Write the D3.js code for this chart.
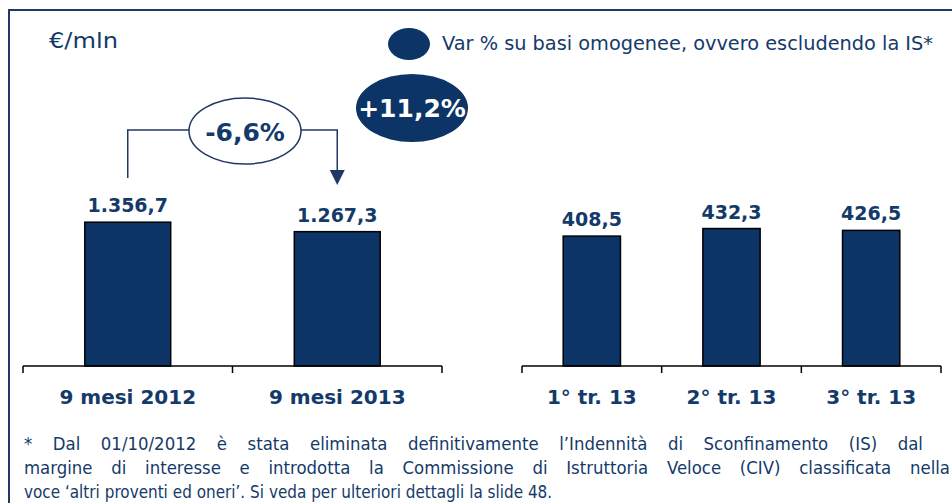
<!DOCTYPE html>
<html>
<head>
<meta charset="utf-8">
<script src="https://cdn.jsdelivr.net/npm/d3@7"></script>
<style>
  body { margin: 0; background: #fff; }
  svg { display: block; }
</style>
</head>
<body>
<div id="chart"></div>
<script>
// data
var leftCats = ["9 mesi 2012", "9 mesi 2013"];
var leftVals = [1356.7, 1267.3];
var leftLabels = ["1.356,7", "1.267,3"];

var rightCats = ["1° tr. 13", "2° tr. 13", "3° tr. 13"];
var rightVals = [408.5, 432.3, 426.5];
var rightLabels = ["408,5", "432,3", "426,5"];

var unitLabel = "€/mln";
var legendLabel = "Var % su basi omogenee, ovvero escludendo la IS*";
var changeLabel = "-6,6%";
var homogLabel = "+11,2%";
var footLines = [
  "* Dal 01/10/2012 è stata eliminata definitivamente l’Indennità di Sconfinamento (IS) dal",
  "margine di interesse e introdotta la Commissione di Istruttoria Veloce (CIV) classificata nella",
  "voce ‘altri proventi ed oneri’. Si veda per ulteriori dettagli la slide 48."
];

var width = 952, height = 503;
var navy = "#0c3466";
var textNavy = "#143a6a";
var bold = "'DejaVu Sans', Verdana, sans-serif";

var svg = d3.select("#chart").append("svg")
    .attr("width", width)
    .attr("height", height);

// frame (top and left only)
svg.append("path")
    .attr("d", "M9," + height + "V10H" + width)
    .attr("fill", "none")
    .attr("stroke", "#1f3864")
    .attr("stroke-width", 2);

// fit regular text to a width (the original font is narrower than ours)
function fit(sel, w) {
    sel.attr("textLength", w).attr("lengthAdjust", "spacingAndGlyphs");
}

svg.append("text")
    .attr("x", 49).attr("y", 48)
    .attr("font-family", "'DejaVu Sans', sans-serif")
    .attr("font-size", 22)
    .attr("fill", textNavy)
    .text(unitLabel)
    .call(fit, 69);

// legend
svg.append("ellipse")
    .attr("cx", 409).attr("cy", 44).attr("rx", 21).attr("ry", 16)
    .attr("fill", navy);
svg.append("text")
    .attr("x", 442).attr("y", 50)
    .attr("font-family", "'DejaVu Sans', sans-serif")
    .attr("font-size", 20)
    .attr("fill", textNavy)
    .text(legendLabel)
    .call(fit, 491);

var y0 = 366, yTop = 207;

function panel(cats, vals, labels, x0, x1, yMax) {
    var x = d3.scaleBand().domain(cats).range([x0, x1]);
    var y = d3.scaleLinear().domain([0, yMax]).range([y0, yTop]);
    var bw = x.bandwidth() * 0.41;
    var g = svg.append("g");

    g.selectAll(".bar")
        .data(vals).enter()
        .append("rect")
        .attr("class", "bar")
        .attr("x", function(d, i){ return x(cats[i]) + (x.bandwidth() - bw) / 2 })
        .attr("y", function(d){ return y(d) })
        .attr("width", bw)
        .attr("height", function(d){ return y(0) - y(d) })
        .attr("fill", navy)
        .attr("stroke", "#000")
        .attr("stroke-width", 1.5);

    g.selectAll(".val")
        .data(vals).enter()
        .append("text")
        .attr("class", "val")
        .attr("x", function(d, i){ return x(cats[i]) + x.bandwidth() / 2 })
        .attr("y", function(d){ return y(d) - 10 })
        .attr("text-anchor", "middle")
        .attr("font-family", bold)
        .attr("font-weight", "bold")
        .attr("font-size", 19)
        .attr("fill", textNavy)
        .text(function(d, i){ return labels[i] });

    // axis: baseline with ticks at the band edges
    var edges = cats.map(function(c){ return x(c) }).concat([x1]);
    g.append("line")
        .attr("x1", x0).attr("x2", x1)
        .attr("y1", y(0)).attr("y2", y(0))
        .attr("stroke", "#000").attr("stroke-width", 1.5);
    g.selectAll(".tick")
        .data(edges).enter()
        .append("line")
        .attr("class", "tick")
        .attr("x1", function(d){ return d }).attr("x2", function(d){ return d })
        .attr("y1", y(0)).attr("y2", y(0) + 7)
        .attr("stroke", "#000").attr("stroke-width", 1.5);

    g.selectAll(".cat")
        .data(cats).enter()
        .append("text")
        .attr("class", "cat")
        .attr("x", function(d){ return x(d) + x.bandwidth() / 2 })
        .attr("y", y(0) + 38)
        .attr("text-anchor", "middle")
        .attr("font-family", bold)
        .attr("font-weight", "bold")
        .attr("font-size", 20)
        .attr("fill", textNavy)
        .text(function(d){ return d });

    return { x: x, y: y };
}

var left = panel(leftCats, leftVals, leftLabels, 23, 442, 1500);
var right = panel(rightCats, rightVals, rightLabels, 522, 941, 500);

// change connector between the two left bars
var cx1 = left.x(leftCats[0]) + left.x.bandwidth() / 2;
var cx2 = left.x(leftCats[1]) + left.x.bandwidth() / 2;
var ecx = 245, ecy = 131, erx = 56, ery = 33;

svg.append("path")
    .attr("d", "M" + cx1 + ",178V" + 130 + "H" + (ecx - erx) +
               "M" + (ecx + erx) + ",130H" + cx2 + "V172")
    .attr("fill", "none")
    .attr("stroke", "#1f3864")
    .attr("stroke-width", 1.5);
svg.append("path")
    .attr("d", "M" + (cx2 - 7.5) + ",170L" + (cx2 + 7.5) + ",170L" + cx2 + ",185Z")
    .attr("fill", "#1f3864");

svg.append("ellipse")
    .attr("cx", ecx).attr("cy", ecy).attr("rx", erx).attr("ry", ery)
    .attr("fill", "#fff")
    .attr("stroke", "#1f3864")
    .attr("stroke-width", 1.5);
svg.append("text")
    .attr("x", ecx).attr("y", 141)
    .attr("text-anchor", "middle")
    .attr("font-family", bold)
    .attr("font-weight", "bold")
    .attr("font-size", 25)
    .attr("fill", textNavy)
    .text(changeLabel);

// homogeneous change bubble
svg.append("ellipse")
    .attr("cx", 412).attr("cy", 108).attr("rx", 56).attr("ry", 34)
    .attr("fill", navy);
svg.append("text")
    .attr("x", 412).attr("y", 117)
    .attr("text-anchor", "middle")
    .attr("font-family", bold)
    .attr("font-weight", "bold")
    .attr("font-size", 25)
    .attr("fill", "#fff")
    .text(homogLabel);

// footnote: first two lines justified, last line left aligned
var footX = 24;
var footEnds = [923, 950, 552];
var footY = [450, 474, 498];
var footSx = 0.92;

var foot = svg.append("g")
    .attr("font-family", "'DejaVu Sans', sans-serif")
    .attr("font-size", 18)
    .attr("fill", textNavy);

function measure(s) {
    var t = foot.append("text").text(s);
    var l = t.node().getComputedTextLength();
    t.remove();
    return l;
}

var spaceW = measure("a a") - measure("aa");

footLines.forEach(function(line, i) {
    var words = line.split(" ");
    var ws = words.map(measure);
    var last = i === footLines.length - 1;
    var sx = last ? (footEnds[i] - footX) / measure(line) : footSx;
    var gap = last ? spaceW
        : ((footEnds[i] - footX) / sx - d3.sum(ws)) / (words.length - 1);
    var t = foot.append("text")
        .attr("y", footY[i])
        .attr("transform", "translate(" + footX + ",0) scale(" + sx + ",1)");
    var xx = 0;
    words.forEach(function(w, j) {
        t.append("tspan").attr("x", xx).text(w);
        xx += ws[j] + gap;
    });
});
</script>
</body>
</html>
